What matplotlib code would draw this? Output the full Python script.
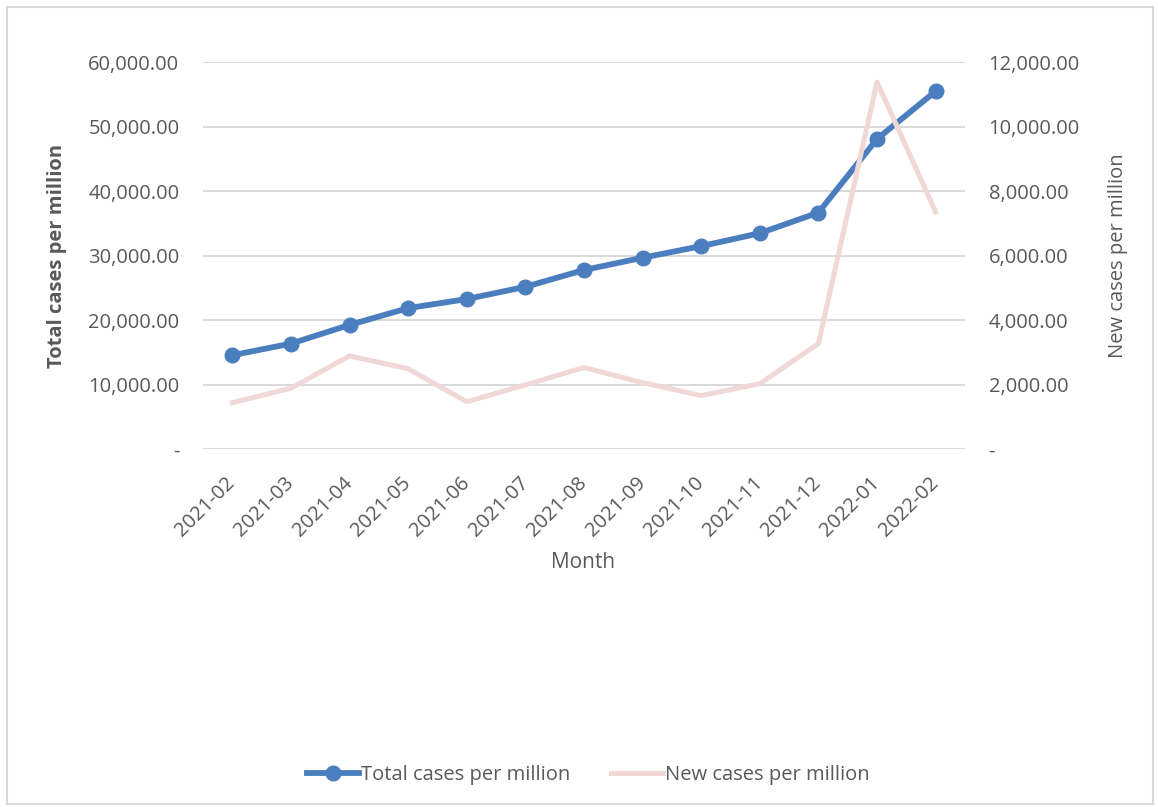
import matplotlib.pyplot as plt
from matplotlib.patches import Rectangle
from matplotlib.ticker import FuncFormatter, MultipleLocator

months = ["2021-02", "2021-03", "2021-04", "2021-05", "2021-06", "2021-07",
          "2021-08", "2021-09", "2021-10", "2021-11", "2021-12", "2022-01", "2022-02"]
total_cases = [14600, 16400, 19300, 21900, 23300, 25200, 27800,
               29700, 31500, 33500, 36700, 48100, 55500]
new_cases = [1450, 1900, 2900, 2500, 1480, 2000, 2540,
             2070, 1670, 2040, 3280, 11380, 7360]

plt.rcParams['font.family'] = ['Open Sans', 'DejaVu Sans']
text_color = '#595959'
blue = '#4A7EBF'
pink = '#F0D8D6'


def acct(v, pos):
    # accounting style: zero shows as a dash
    return '-' if abs(v) < 1e-9 else f'{v:,.2f}'


fig = plt.figure(figsize=(11.58, 8.07), dpi=100)
fig.patches.append(Rectangle((0.006, 0.004), 0.99, 0.987, transform=fig.transFigure,
                             fill=False, edgecolor='#D9D9D9', linewidth=1.5))

ax = fig.add_axes([0.1753, 0.443, 0.658, 0.480])
ax2 = ax.twinx()

x = range(len(months))
ax.plot(x, total_cases, color=blue, linewidth=4.2, marker='o', markersize=10.5,
        label='Total cases per million', zorder=3)
ax2.plot(x, new_cases, color=pink, linewidth=3.6, label='New cases per million')

ax.set_ylim(0, 60000)
ax2.set_ylim(0, 12000)
ax.set_xlim(-0.5, len(months) - 0.5)
ax.yaxis.set_major_locator(MultipleLocator(10000))
ax2.yaxis.set_major_locator(MultipleLocator(2000))
ax.yaxis.set_major_formatter(FuncFormatter(acct))
ax2.yaxis.set_major_formatter(FuncFormatter(acct))
ax.grid(axis='y', color='#D9D9D9', linewidth=1.4)
ax.set_axisbelow(True)

for a in (ax, ax2):
    for s in a.spines.values():
        s.set_visible(False)
    a.tick_params(length=0, labelsize=14.5, colors=text_color, pad=17)

ax.set_xticks(list(x))
ax.set_xticklabels(months, rotation=45, ha='right', va='center', rotation_mode='anchor')
ax.tick_params(axis='x', pad=22)

ax.set_ylabel('Total cases per million', fontsize=14.5, fontweight='bold', color=text_color)
ax.yaxis.set_label_coords(-0.178, 0.5)
ax2.set_ylabel('New cases per million', fontsize=14.5, color=text_color, rotation=90)
ax2.yaxis.set_label_coords(1.188, 0.5)

fig.text(0.5035, 1 - 563 / 807, 'Month', fontsize=15, color=text_color,
         ha='center', va='center')

h1, l1 = ax.get_legend_handles_labels()
h2, l2 = ax2.get_legend_handles_labels()
leg = fig.legend(h1 + h2, l1 + l2, loc='center', bbox_to_anchor=(0.508, 1 - 775 / 807),
                 ncol=2, frameon=False, fontsize=14.5, columnspacing=2.0,
                 handlelength=2.6, handletextpad=0.1)
for t in leg.get_texts():
    t.set_color(text_color)

fig.savefig('out.png', dpi=100)
